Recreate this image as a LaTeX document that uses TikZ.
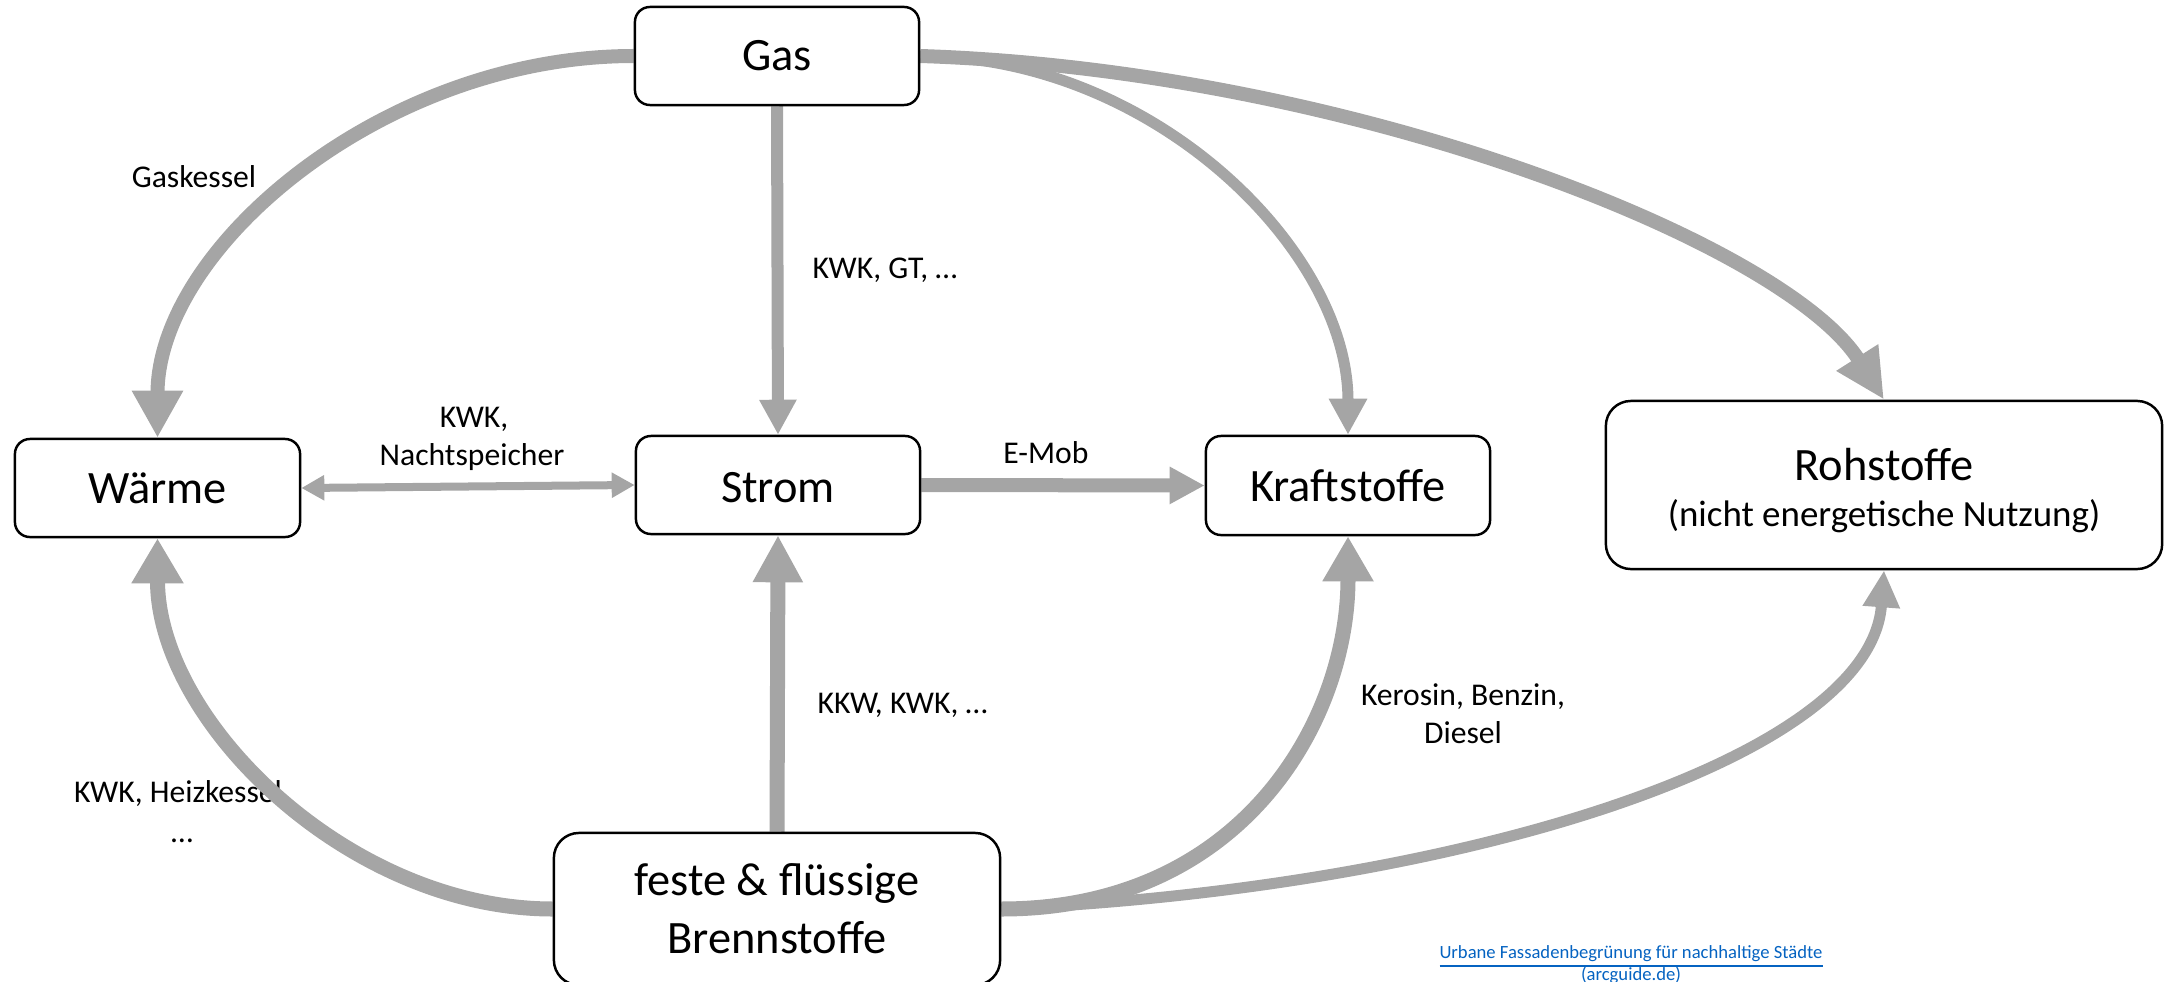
\documentclass[tikz,border=0pt]{standalone}
\usepackage{fontspec}
\setmainfont{Carlito}
\usetikzlibrary{arrows.meta}
\definecolor{flowgray}{HTML}{A5A5A5}
\definecolor{linkblue}{HTML}{0563C1}
\pgfdeclarelayer{bg}
\pgfsetlayers{bg,main}
\begin{document}
\begin{tikzpicture}[x=0.01cm,y=-0.01cm,
  box/.style={draw=black, line width=0.7pt, fill=white, rounded corners=0.15cm, inner sep=0pt},
  bigbox/.style={box, rounded corners=0.25cm},
  big/.style={font=\fontsize{13.2}{16}\selectfont, anchor=base, inner sep=0pt},
  sub/.style={font=\fontsize{10.5}{13}\selectfont, anchor=base, inner sep=0pt},
  small/.style={font=\fontsize{9}{11}\selectfont, anchor=base, inner sep=0pt},
  linktext/.style={font=\fontsize{5.3}{6.5}\selectfont, text=linkblue, anchor=base, inner sep=0pt},
  flow/.style={draw=flowgray},
]
\useasboundingbox (0,0) rectangle (2164,982);
\clip (0,0) rectangle (2164,982);

% boxes
\node[box, minimum width=2.84cm, minimum height=0.98cm] (gas) at (777,56) {};
\node[box, minimum width=2.85cm, minimum height=0.98cm] (warme) at (157.5,488) {};
\node[box, minimum width=2.84cm, minimum height=0.98cm] (strom) at (778,485) {};
\node[box, minimum width=2.84cm, minimum height=0.99cm] (kraft) at (1348,485.5) {};
\node[bigbox, minimum width=5.56cm, minimum height=1.68cm] (roh) at (1884,485) {};
\node[bigbox, minimum width=4.46cm, minimum height=1.52cm] (brenn) at (777,909) {};

% box texts
\node[big] (gasT) at (777,71) {Gas};
\node[big] (warmeT) at (157.5,503) {Wärme};
\node[big] (stromT) at (778,502) {Strom};
\node[big] (kraftT) at (1348,501) {Kraftstoffe};
\node[big] (rohT) at (1884,480) {Rohstoffe};
\node[sub] (rohS) at (1884,526) {(nicht energetische Nutzung)};
\node[big] (brennA) at (777,895) {feste \& flüssige};
\node[big] (brennB) at (777,953) {Brennstoffe};

\begin{pgfonlayer}{bg}
% labels
\node[small] (lGaskessel) at (194,187) {Gaskessel};
\node[small, anchor=base west] (lGT) at (812,278) {KWK, GT, …};
\node[small] (lKWKa) at (474,427) {KWK,};
\node[small] (lKWKb) at (472,465) {Nachtspeicher};
\node[small] (lEMob) at (1046,463) {E-Mob};
\node[small, anchor=base west] (lKKW) at (817,713) {KKW, KWK, …};
\node[small] (lHeizA) at (182,802) {KWK, Heizkessel,};
\node[small] (lHeizB) at (182,842) {…};
\node[small] (lKeroA) at (1463,705) {Kerosin, Benzin,};
\node[small] (lKeroB) at (1463,743) {Diesel};
\node[linktext] (link1) at (1631,958) {\underline{Urbane Fassadenbegrünung für nachhaltige Städte}};
\node[linktext] (link2) at (1631,980) {\underline{(arcguide.de)}};

% connectors
\draw[flow, line width=0.14cm, -{Triangle[length=0.47cm,width=0.48cm]}]
  (gas.west) .. controls +(-250,0) and +(0,-190) .. (warme.north);
\draw[flow, line width=0.12cm, -{Triangle[length=0.35cm,width=0.35cm]}]
  (gas.south) -- (strom.north);
\draw[flow, line width=0.11cm, -{Triangle[length=0.36cm,width=0.36cm]}]
  (gas.east) .. controls +(231,0) and +(0,-186) .. (kraft.north);
\draw[flow, line width=0.14cm, -{Triangle[length=0.50cm,width=0.46cm]}]
  (gas.east) .. controls +(431,14) and +(-99,-156) .. (roh.north);
\draw[flow, line width=0.08cm, {Triangle[length=0.23cm,width=0.24cm]}-{Triangle[length=0.23cm,width=0.24cm]}]
  (warme.east) -- (strom.west);
\draw[flow, line width=0.14cm, -{Triangle[length=0.35cm,width=0.35cm]}]
  (strom.east) -- (kraft.west);
\draw[flow, line width=0.15cm, -{Triangle[length=0.45cm,width=0.49cm]}]
  (brenn.west) .. controls +(-204,0) and +(0,183) .. (warme.south);
\draw[flow, line width=0.15cm, -{Triangle[length=0.47cm,width=0.47cm]}]
  (brenn.north) -- (strom.south);
\draw[flow, line width=0.15cm, -{Triangle[length=0.45cm,width=0.48cm]}]
  (brenn.east) .. controls +(240,0) and +(0,185) .. (kraft.south);
\draw[flow, line width=0.11cm, -{Triangle[length=0.37cm,width=0.35cm]}]
  (brenn.east) .. controls +(450,-20) and +(-14,191) .. (roh.south);
\end{pgfonlayer}
\end{tikzpicture}
\end{document}
